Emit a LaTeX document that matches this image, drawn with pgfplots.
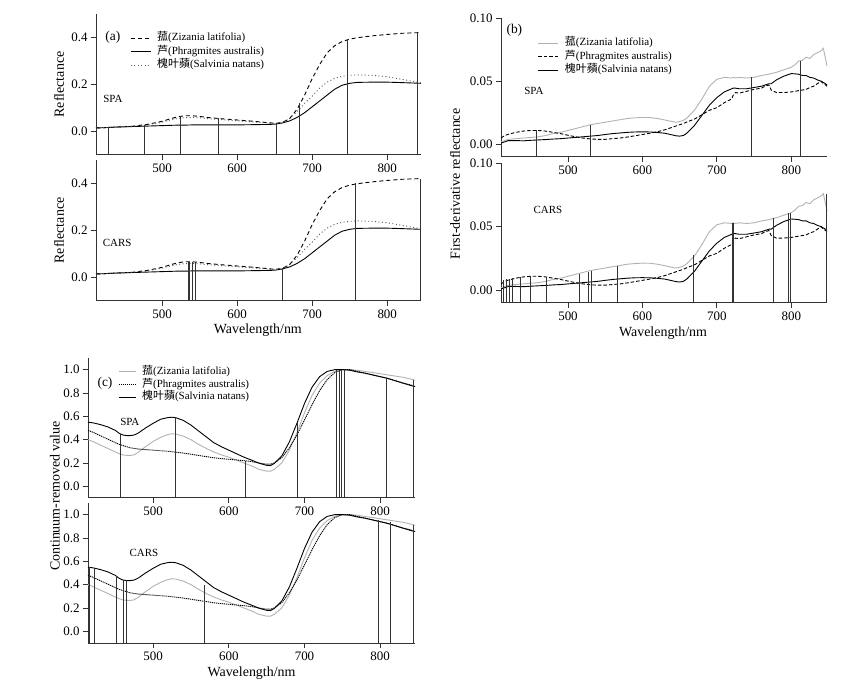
\documentclass[border=0pt]{standalone}
\usepackage{pgfplots}
\pgfplotsset{compat=1.18}
\usepackage{pgfplotstable}
\usepackage{fontspec}
\setmainfont{Liberation Serif}
\newfontfamily\cjk{Noto Sans CJK SC}

\pgfplotstableread{
wl ziz phr sal
412 0.015 0.015 0.015
420 0.016 0.016 0.016
440 0.019 0.019 0.019
460 0.022 0.021 0.022
480 0.030 0.023 0.028
500 0.043 0.025 0.040
510 0.053 0.026 0.048
520 0.062 0.027 0.055
530 0.067 0.027 0.059
540 0.067 0.028 0.060
550 0.064 0.028 0.058
560 0.060 0.028 0.055
580 0.054 0.028 0.050
600 0.049 0.028 0.046
620 0.044 0.029 0.041
640 0.038 0.030 0.036
650 0.035 0.031 0.033
660 0.038 0.036 0.036
670 0.055 0.045 0.055
680 0.095 0.060 0.085
690 0.155 0.080 0.120
700 0.225 0.105 0.150
710 0.285 0.130 0.185
720 0.335 0.155 0.210
730 0.365 0.180 0.226
740 0.383 0.197 0.235
750 0.393 0.205 0.239
760 0.399 0.209 0.241
780 0.407 0.210 0.239
800 0.413 0.210 0.233
820 0.418 0.208 0.222
845 0.421 0.205 0.207
}\refl

\pgfplotstableread{
wl ziz phr sal
410 0.002 0.005 0.001
415 0.003 0.007 0.002
420 0.004 0.008 0.003
430 0.0045 0.0095 0.003
440 0.005 0.0105 0.0028
450 0.0055 0.011 0.0032
460 0.006 0.011 0.0035
470 0.007 0.0105 0.0038
480 0.0085 0.0095 0.0042
490 0.0095 0.0085 0.0045
500 0.011 0.0072 0.005
510 0.0125 0.006 0.0055
520 0.014 0.005 0.006
530 0.0155 0.0043 0.0065
540 0.0165 0.004 0.007
550 0.0175 0.004 0.0078
560 0.0185 0.0045 0.0085
570 0.0195 0.005 0.009
580 0.0205 0.0058 0.0095
590 0.021 0.0068 0.0098
600 0.0213 0.0078 0.0099
610 0.0212 0.0088 0.0098
620 0.0205 0.0100 0.0094
630 0.0193 0.0115 0.0088
640 0.018 0.0135 0.0075
645 0.0175 0.0145 0.0068
650 0.018 0.0155 0.0065
655 0.019 0.0165 0.007
660 0.021 0.0178 0.009
670 0.027 0.020 0.015
680 0.036 0.0235 0.023
690 0.046 0.027 0.031
700 0.0515 0.029 0.037
710 0.053 0.033 0.0415
720 0.0525 0.036 0.044
722 0.053 0.039 0.0445
725 0.0525 0.041 0.0445
730 0.053 0.0405 0.044
740 0.0525 0.042 0.044
750 0.053 0.0435 0.045
760 0.0545 0.0445 0.046
765 0.055 0.046 0.047
770 0.0555 0.047 0.048
773 0.056 0.043 0.048
780 0.057 0.041 0.051
790 0.059 0.041 0.054
800 0.061 0.0415 0.056
805 0.063 0.042 0.0558
810 0.066 0.0425 0.0555
815 0.0665 0.043 0.0545
820 0.069 0.0435 0.0545
825 0.068 0.045 0.053
830 0.071 0.046 0.0525
835 0.0725 0.048 0.051
840 0.074 0.050 0.050
843 0.076 0.048 0.049
846 0.068 0.047 0.048
848 0.062 0.046 0.047
}\deriv

\pgfplotstableread{
wl ziz phr sal
414 0.40 0.48 0.55
420 0.385 0.465 0.545
430 0.355 0.435 0.53
440 0.325 0.405 0.51
450 0.295 0.375 0.48
455 0.28 0.36 0.455
460 0.27 0.35 0.44
465 0.265 0.34 0.435
470 0.265 0.33 0.435
475 0.27 0.325 0.44
480 0.29 0.32 0.455
490 0.34 0.315 0.50
500 0.385 0.31 0.54
510 0.42 0.305 0.575
520 0.445 0.30 0.59
525 0.45 0.297 0.592
530 0.448 0.293 0.588
540 0.43 0.285 0.565
550 0.40 0.275 0.525
560 0.36 0.265 0.475
570 0.325 0.255 0.425
580 0.295 0.245 0.375
590 0.27 0.238 0.34
600 0.25 0.232 0.31
610 0.225 0.226 0.28
620 0.20 0.22 0.25
630 0.175 0.212 0.225
640 0.145 0.20 0.198
650 0.13 0.19 0.18
655 0.13 0.19 0.178
660 0.145 0.20 0.195
670 0.20 0.245 0.26
680 0.31 0.33 0.38
690 0.46 0.44 0.54
700 0.63 0.57 0.71
710 0.78 0.70 0.85
720 0.885 0.82 0.94
730 0.95 0.915 0.985
740 0.985 0.975 1.0
750 1.0 1.0 1.0
760 1.0 1.0 0.995
770 0.995 0.985 0.98
780 0.985 0.97 0.97
790 0.975 0.955 0.955
800 0.965 0.94 0.94
810 0.955 0.925 0.925
820 0.945 0.905 0.905
830 0.935 0.885 0.885
840 0.92 0.87 0.865
846 0.91 0.855 0.855
}\crtab

\tikzset{
  tag/.style={font=\fontsize{11}{12}\selectfont},
  ptag/.style={font=\fontsize{13.5}{15}\selectfont},
}
\pgfplotsset{
  panel/.style={
    scale only axis, anchor=south west,
    axis x line*=bottom, axis y line*=left,
    axis line style={-, black!80, line width=1bp},
    tick align=outside, major tick length=5bp,
    tick style={black!80, line width=0.8bp},
    xtick={500,600,700,800},
    ticklabel style={font=\fontsize{13}{14}\selectfont},
    label style={font=\fontsize{14}{16}\selectfont},
    /pgf/number format/assume math mode=true,
    clip=false,
    legend cell align=left,
    legend image code/.code={\draw[##1] (0bp,0bp) -- (20bp,0bp);},
    legend style={draw=none, fill=none, inner sep=0pt, anchor=north west,
      font=\fontsize{11}{12}\selectfont,
      nodes={inner sep=0pt, text height=8.5bp, text depth=3bp},
      row sep=2bp, column sep=6bp},
  },
  onedec/.style={yticklabel style={/pgf/number format/.cd,fixed,fixed zerofill,precision=1}},
  twodec/.style={yticklabel style={/pgf/number format/.cd,fixed,fixed zerofill,precision=2}},
  vl/.style={black!80, line width=1bp, unbounded coords=jump, forget plot},
}

\begin{document}
\begin{tikzpicture}
\path[use as bounding box] (0bp,0bp) rectangle (851bp,688bp);

% ---------- (a) SPA ----------
\begin{axis}[panel, onedec, at={(96bp,533bp)}, width=325bp, height=141bp,
  xmin=412, xmax=845, ymin=-0.1, ymax=0.5, ytick={0,0.2,0.4},
  ylabel={Reflectance}, ylabel style={at={(axis description cs:-0.114,0.5)}, anchor=center},
  legend style={at={(0.105,0.872)}}]
\addplot[black, line width=0.9bp, dash pattern=on 4bp off 3bp] table[x=wl,y=ziz]{\refl};
\addlegendentry{{\cjk 菰}(Zizania latifolia)}
\addplot[black, line width=0.9bp] table[x=wl,y=phr]{\refl};
\addlegendentry{{\cjk 芦}(Phragmites australis)}
\addplot[black!65, line width=0.9bp, dash pattern=on 1bp off 2.5bp] table[x=wl,y=sal]{\refl};
\addlegendentry{{\cjk 槐叶蘋}(Salvinia natans)}
\addplot[vl] coordinates {(413,-0.1) (413,0.016) (413,nan) (428,-0.1) (428,0.019) (428,nan)
 (476,-0.1) (476,0.029) (476,nan) (525,-0.1) (525,0.066) (525,nan) (575,-0.1) (575,0.056) (575,nan)
 (652,-0.1) (652,0.036) (652,nan) (683,-0.1) (683,0.12) (683,nan) (747,-0.1) (747,0.39) (747,nan)
 (841,-0.1) (841,0.42)};
\node[ptag] at (axis description cs:0.052,0.837) {(a)};
\node[tag] at (axis description cs:0.052,0.397) {SPA};
\end{axis}

% ---------- (a) CARS ----------
\begin{axis}[panel, onedec, at={(96bp,387bp)}, width=325bp, height=141bp,
  xmin=412, xmax=845, ymin=-0.1, ymax=0.5, ytick={0,0.2,0.4},
  ylabel={Reflectance}, ylabel style={at={(axis description cs:-0.114,0.5)}, anchor=center},
  xlabel={Wavelength/nm}, xlabel style={at={(axis description cs:0.498,-0.206)}, anchor=center}]
\addplot[black, line width=0.9bp, dash pattern=on 4bp off 3bp] table[x=wl,y=ziz]{\refl};
\addplot[black, line width=0.9bp] table[x=wl,y=phr]{\refl};
\addplot[black!65, line width=0.9bp, dash pattern=on 1bp off 2.5bp] table[x=wl,y=sal]{\refl};
\addplot[vl] coordinates {(535,-0.1) (535,0.068) (535,nan) (537,-0.1) (537,0.068) (537,nan)
 (541,-0.1) (541,0.068) (541,nan) (544,-0.1) (544,0.067) (544,nan) (661,-0.1) (661,0.04) (661,nan)
 (758,-0.1) (758,0.40) (758,nan) (844,-0.1) (844,0.421)};
\node[tag] at (axis description cs:0.065,0.411) {CARS};
\end{axis}

% ---------- (b) SPA ----------
\begin{axis}[panel, twodec, at={(501bp,531bp)}, width=326bp, height=139bp,
  xmin=410, xmax=848, ymin=-0.01, ymax=0.10, ytick={0,0.05,0.10},
  ylabel={First-derivative reflectance}, ylabel style={at={(axis description cs:-0.141,-0.194)}, anchor=center},
  legend style={at={(0.113,0.863)}}]
\addplot[black!30, line width=0.9bp] table[x=wl,y=ziz]{\deriv};
\addlegendentry{{\cjk 菰}(Zizania latifolia)}
\addplot[black, line width=0.9bp, dash pattern=on 3.5bp off 2bp] table[x=wl,y=phr]{\deriv};
\addlegendentry{{\cjk 芦}(Phragmites australis)}
\addplot[black, line width=0.9bp] table[x=wl,y=sal]{\deriv};
\addlegendentry{{\cjk 槐叶蘋}(Salvinia natans)}
\addplot[vl] coordinates {(458,-0.01) (458,0.011) (458,nan) (530,-0.01) (530,0.0155) (530,nan)
 (746,-0.01) (746,0.053) (746,nan) (812,-0.01) (812,0.066)};
\node[ptag] at (axis description cs:0.041,0.909) {(b)};
\node[tag] at (axis description cs:0.101,0.475) {SPA};
\end{axis}

% ---------- (b) CARS ----------
\begin{axis}[panel, twodec, at={(501bp,385bp)}, width=326bp, height=140bp,
  xmin=410, xmax=848, ymin=-0.01, ymax=0.10, ytick={0,0.05,0.10},
  xlabel={Wavelength/nm}, xlabel style={at={(axis description cs:0.497,-0.214)}, anchor=center}]
\addplot[black!30, line width=0.9bp] table[x=wl,y=ziz]{\deriv};
\addplot[black, line width=0.9bp, dash pattern=on 3.5bp off 2bp] table[x=wl,y=phr]{\deriv};
\addplot[black, line width=0.9bp] table[x=wl,y=sal]{\deriv};
\addplot[vl] coordinates {(414,-0.01) (414,0.008) (414,nan) (417,-0.01) (417,0.0085) (417,nan)
 (422,-0.01) (422,0.009) (422,nan) (425,-0.01) (425,0.0095) (425,nan) (436,-0.01) (436,0.0105) (436,nan)
 (450,-0.01) (450,0.011) (450,nan) (471,-0.01) (471,0.0105) (471,nan) (515,-0.01) (515,0.013) (515,nan)
 (528,-0.01) (528,0.0145) (528,nan) (532,-0.01) (532,0.0155) (532,nan) (567,-0.01) (567,0.019) (567,nan)
 (668,-0.01) (668,0.028) (668,nan) (721,-0.01) (721,0.053) (721,nan) (723,-0.01) (723,0.053) (723,nan)
 (776.5,-0.01) (776.5,0.057) (776.5,nan) (796,-0.01) (796,0.061) (796,nan) (798.5,-0.01) (798.5,0.061) (798.5,nan)
 (847,-0.01) (847,0.076)};
\node[tag] at (axis description cs:0.144,0.664) {CARS};
\end{axis}

% ---------- (c) SPA ----------
\begin{axis}[panel, onedec, at={(88bp,190bp)}, width=327bp, height=140bp,
  xmin=414, xmax=846, ymin=-0.1, ymax=1.1, ytick={0,0.2,0.4,0.6,0.8,1.0},
  ylabel={Continuum-removed value}, ylabel style={at={(axis description cs:-0.101,0.014)}, anchor=center},
  legend style={at={(0.092,0.946)}, row sep=1.3bp}, legend image code/.code={\draw[#1] (0bp,0bp) -- (17bp,0bp);}]
\addplot[black!30, line width=0.9bp] table[x=wl,y=ziz]{\crtab};
\addlegendentry{{\cjk 菰}(Zizania latifolia)}
\addplot[black, line width=0.9bp, dash pattern=on 1.2bp off 0.8bp] table[x=wl,y=phr]{\crtab};
\addlegendentry{{\cjk 芦}(Phragmites australis)}
\addplot[black, line width=0.9bp] table[x=wl,y=sal]{\crtab};
\addlegendentry{{\cjk 槐叶蘋}(Salvinia natans)}
\addplot[vl] coordinates {(456.6,-0.1) (456.6,0.45) (456.6,nan) (529,-0.1) (529,0.59) (529,nan)
 (622.4,-0.1) (622.4,0.22) (622.4,nan) (690.4,-0.1) (690.4,0.55) (690.4,nan)
 (742.5,-0.1) (742.5,1.0) (742.5,nan) (746,-0.1) (746,1.0) (746,nan) (748.3,-0.1) (748.3,1.0) (748.3,nan)
 (752.6,-0.1) (752.6,1.0) (752.6,nan) (808.8,-0.1) (808.8,0.925) (808.8,nan) (843.4,-0.1) (843.4,0.91)};
\node[ptag] at (axis description cs:0.052,0.821) {(c)};
\node[tag] at (axis description cs:0.128,0.543) {SPA};
\end{axis}

% ---------- (c) CARS ----------
\begin{axis}[panel, onedec, at={(88bp,45bp)}, width=327bp, height=140bp,
  xmin=414, xmax=846, ymin=-0.1, ymax=1.1, ytick={0,0.2,0.4,0.6,0.8,1.0},
  xlabel={Wavelength/nm}, xlabel style={at={(axis description cs:0.50,-0.214)}, anchor=center}]
\addplot[black!30, line width=0.9bp] table[x=wl,y=ziz]{\crtab};
\addplot[black, line width=0.9bp, dash pattern=on 1.2bp off 0.8bp] table[x=wl,y=phr]{\crtab};
\addplot[black, line width=0.9bp] table[x=wl,y=sal]{\crtab};
\addplot[vl] coordinates {(415.8,-0.1) (415.8,0.55) (415.8,nan) (422.8,-0.1) (422.8,0.54) (422.8,nan)
 (452.2,-0.1) (452.2,0.47) (452.2,nan) (461,-0.1) (461,0.44) (461,nan) (464.5,-0.1) (464.5,0.44) (464.5,nan)
 (568.4,-0.1) (568.4,0.40) (568.4,nan) (797.4,-0.1) (797.4,0.95) (797.4,nan) (813.2,-0.1) (813.2,0.94) (813.2,nan)
 (843.4,-0.1) (843.4,0.91)};
\node[tag] at (axis description cs:0.171,0.643) {CARS};
\end{axis}

\end{tikzpicture}
\end{document}
